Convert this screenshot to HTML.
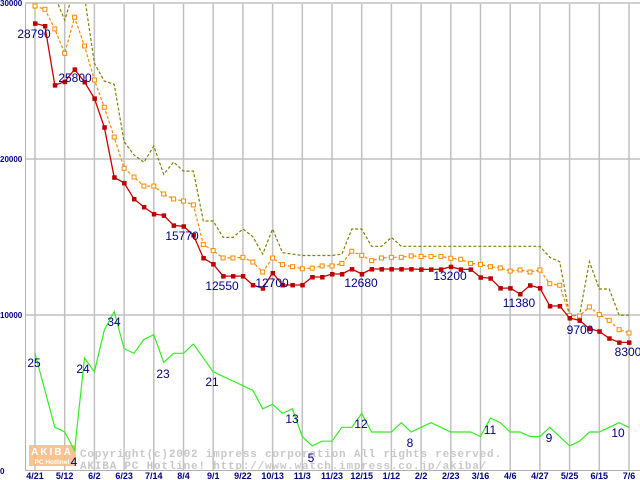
<!DOCTYPE html>
<html><head><meta charset="utf-8"><style>
html,body{margin:0;padding:0;background:#fff;}
svg{display:block;font-family:"Liberation Sans",sans-serif;}
</style></head><body>
<svg id="chart" width="640" height="480" viewBox="0 0 640 480" xmlns="http://www.w3.org/2000/svg">
<g id="grid"></g>
<g id="axes"></g>
<g id="watermark">
  <rect x="29" y="445" width="47" height="21" fill="#f8b880" opacity="0.85"/>
  <text x="52" y="455" text-anchor="middle" font-size="10" font-weight="bold" fill="#fff" letter-spacing="2">AKIBA</text>
  <text x="52" y="464" text-anchor="middle" font-size="6.5" font-weight="bold" fill="#fff">PC Hotline!</text>
  <text x="80" y="457" font-family="Liberation Mono, monospace" font-size="11" font-weight="bold" fill="#c8c8c8" letter-spacing="0.8">Copyright(c)2002 impress corporation All rights reserved.</text>
  <text x="80" y="469" font-family="Liberation Mono, monospace" font-size="11" font-weight="bold" fill="#c8c8c8" letter-spacing="0.8">AKIBA PC Hotline! http://www.watch.impress.co.jp/akiba/</text>
</g>
<g id="series"></g>
<g id="labels" font-size="12" fill="#000080">
  <text x="34" y="38" text-anchor="middle">28790</text>
  <text x="75" y="82" text-anchor="middle">25800</text>
  <text x="182" y="240" text-anchor="middle">15770</text>
  <text x="222" y="290" text-anchor="middle">12550</text>
  <text x="272" y="287" text-anchor="middle">12700</text>
  <text x="361" y="287" text-anchor="middle">12680</text>
  <text x="450" y="280" text-anchor="middle">13200</text>
  <text x="519" y="307" text-anchor="middle">11380</text>
  <text x="580" y="334" text-anchor="middle">9700</text>
  <text x="628" y="356" text-anchor="middle">8300</text>
  <text x="34" y="367" text-anchor="middle">25</text>
  <text x="74" y="466" text-anchor="middle">4</text>
  <text x="83" y="373" text-anchor="middle">24</text>
  <text x="114" y="326" text-anchor="middle">34</text>
  <text x="163" y="378" text-anchor="middle">23</text>
  <text x="212" y="386" text-anchor="middle">21</text>
  <text x="292" y="423" text-anchor="middle">13</text>
  <text x="311" y="462" text-anchor="middle">5</text>
  <text x="361" y="428" text-anchor="middle">12</text>
  <text x="410" y="447" text-anchor="middle">8</text>
  <text x="490" y="434" text-anchor="middle">11</text>
  <text x="549" y="442" text-anchor="middle">9</text>
  <text x="618" y="437" text-anchor="middle">10</text>
</g>
</svg>
<script>
const xTickLabels = ["4/21","5/12","6/2","6/23","7/14","8/4","9/1","9/22","10/13","11/3","11/23","12/15","1/12","2/2","2/23","3/16","4/6","4/27","5/25","6/15","7/6"];
const xTickWeeks = [0,3,6,9,12,15,18,21,24,27,30,33,36,39,42,45,48,51,54,57,60];
const yTickValues = [0,10000,20000,30000];
const minPrice = [28760,28590,24800,25020,25810,25000,23950,22100,18890,18530,17500,16990,16540,16450,15810,15750,15190,13720,13330,12560,12560,12560,11990,11780,12760,11990,11990,11990,12500,12500,12690,12690,13010,12690,13010,13010,13010,13010,13010,12990,12990,12990,13160,12990,12990,12480,12420,11790,11790,11410,11970,11790,10640,10640,9870,9720,9190,9020,8570,8310,8310];
const avgPrice = [29870,29660,28400,26840,29150,27310,25130,23380,21470,19470,18910,18330,18330,17820,17500,17370,17120,14590,14190,13720,13720,13760,13460,12820,13720,13290,13160,13030,13070,13210,13210,13370,14150,13890,13550,13720,13760,13760,13850,13820,13820,13820,13700,13640,13370,13310,13160,13080,12880,12950,12820,12950,12070,11970,10040,10000,10580,10090,9720,9120,8910];
const maxPrice = [32000,31000,30500,28970,31000,30500,26200,25060,24850,21170,20320,19850,20900,19080,19870,19290,19290,16090,16090,15040,15040,15580,15090,13970,15580,14060,13970,13880,13880,13880,13880,13970,15580,15580,14470,14470,15040,14470,14470,14470,14470,14470,14470,14470,14470,14470,14470,14470,14470,14470,14470,14470,13760,13480,10040,10040,13480,11730,11730,10060,10060];
const shopCount = [25,17,9,8,4,24,21,30,34,26,25,28,29,23,25,25,27,24,21,20,19,18,17,13,14,12,13,7,5,6,6,9,9,12,8,8,8,10,8,9,10,9,8,8,8,7,11,10,8,8,7,7,9,7,5,6,8,8,9,10,9];

const NS = "http://www.w3.org/2000/svg";
function xPos(w){ return 35 + w * 9.9; }
function yPrice(v){ return 472 - v * 0.0156; }
function yCount(v){ return 469 - v * 4.63; }
function mk(tag, attrs, parent){
  const e = document.createElementNS(NS, tag);
  for (const k in attrs) e.setAttribute(k, attrs[k]);
  parent.appendChild(e);
  return e;
}
const grid = document.getElementById("grid");
const axes = document.getElementById("axes");
const series = document.getElementById("series");

xTickWeeks.forEach((w, i) => {
  const x = xPos(w);
  const ln = mk("line", {x1:x, y1:4, x2:x, y2:470, stroke:"#c0c0c0", "stroke-width":1.5}, grid);
  
  
  const t = mk("text", {x:x, y:479, "text-anchor":"middle", "font-size":9, "font-weight":"bold", fill:"#000080"}, axes);
  t.textContent = xTickLabels[i];
  
  
});
yTickValues.forEach(v => {
  const y = yPrice(v) - 1;
  if (v > 0) {
    const ln = mk("line", {x1:25, y1:y, x2:640, y2:y, stroke:"#c0c0c0", "stroke-width":1.5}, grid);
    
    
  }
  const t = mk("text", {x:v===0?0:0, y:y+3, "font-size":8, "font-weight":"bold", fill:"#000080"}, axes);
  t.textContent = String(v);
  
  
});
const la = mk("line", {x1:25.5, y1:4, x2:25.5, y2:470, stroke:"#b0b0b0", "stroke-width":1}, axes);


const ba = mk("line", {x1:25, y1:470.5, x2:640, y2:470.5, stroke:"#b0b0b0", "stroke-width":1}, axes);



const clip = mk("clipPath", {id:"plotclip"}, mk("defs", {}, document.getElementById("chart")));
mk("rect", {x:25, y:4, width:615, height:467}, clip);

function pts(arr, yf){ return arr.map((v,i)=>xPos(i).toFixed(1)+","+yf(v).toFixed(1)).join(" "); }

const g = mk("polyline", {points:pts(shopCount, yCount), fill:"none", stroke:"#33ee22", "stroke-width":1.2}, series);



const mx = mk("polyline", {points:pts(maxPrice, yPrice), fill:"none", stroke:"#808000", "stroke-width":1.2, "stroke-dasharray":"3,2", "clip-path":"url(#plotclip)"}, series);



const av = mk("polyline", {points:pts(avgPrice, yPrice), fill:"none", stroke:"#ff8800", "stroke-width":1.2, "stroke-dasharray":"3,2"}, series);


avgPrice.forEach((v,i) => {
  const r = mk("rect", {x:xPos(i)-2, y:yPrice(v)-2, width:4, height:4, fill:"#fff", stroke:"#ff8800", "stroke-width":1}, series);
  
  
});

const mn = mk("polyline", {points:pts(minPrice, yPrice), fill:"none", stroke:"#cc0000", "stroke-width":1.3}, series);


minPrice.forEach((v,i) => {
  const r = mk("rect", {x:xPos(i)-2, y:yPrice(v)-2, width:4.5, height:4.5, fill:"#bb0000"}, series);
  
  
});
</script>
</body></html>
